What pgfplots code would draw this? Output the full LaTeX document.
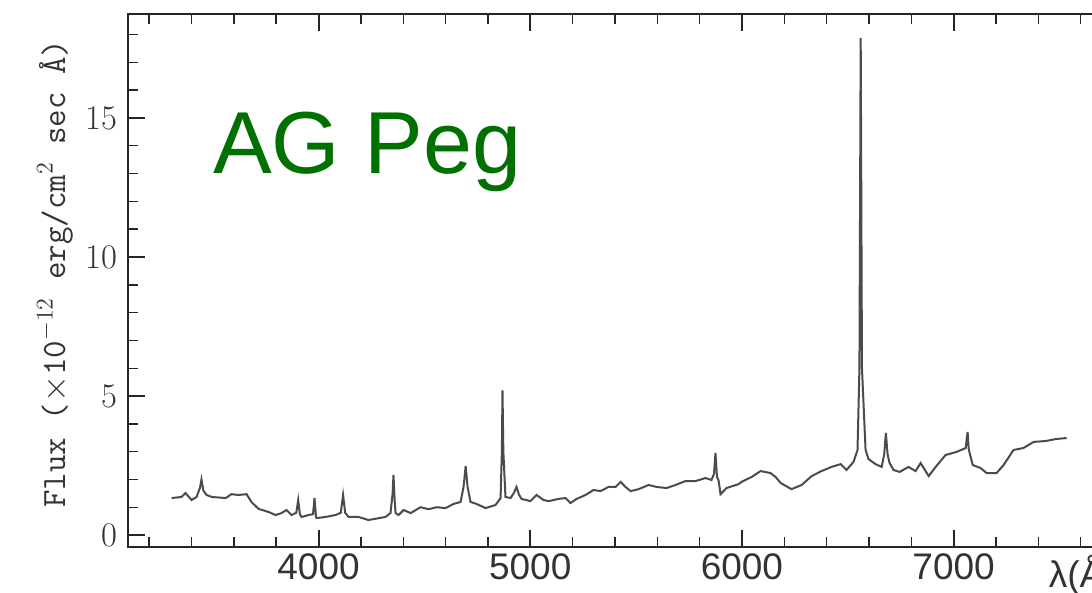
\documentclass[border=0pt]{standalone}
\usepackage{pgfplots}
\pgfplotsset{compat=1.18}
\usepackage{fontspec}
\newfontfamily\lsans{Liberation Sans}
\definecolor{agreen}{RGB}{0,112,0}
\definecolor{specgray}{RGB}{75,75,75}
\begin{document}
\begin{tikzpicture}
\useasboundingbox (-64pt,-23pt) rectangle (482pt,273.5pt);
\begin{axis}[
  at={(0pt,0pt)}, anchor=south west,
  scale only axis, width=497.5pt, height=266.5pt,
  xmin=3100, xmax=7800, ymin=-0.43, ymax=18.74,
  clip=false,
  axis line style={line width=1.3pt, black!85},
  xtick={4000,5000,6000,7000}, xticklabels={4000,5000,6000,7000},
  minor xtick={3200,3400,3600,3800,4200,4400,4600,4800,5200,5400,5600,5800,6200,6400,6600,6800,7200,7400,7600},
  ytick={0,5,10,15}, minor ytick={1,2,3,4,6,7,8,9,11,12,13,14,16,17,18},
  major tick length=8.5pt, minor tick length=5pt,
  tick style={black!85},
  major tick style={line width=1pt}, minor tick style={line width=0.7pt},
  xticklabel style={font=\lsans\fontsize{18.5}{20}\selectfont, text=black!80},
  yticklabel style={font=\fontsize{17}{20}\selectfont, text=black!80, xshift=-2pt},
]
\addplot[specgray, line width=1pt, mark=none] coordinates {
(3306,1.33) (3353,1.37) (3372,1.51) (3400,1.26) (3424,1.37) (3440,1.7) (3447,2.0) (3456,1.6)
(3471,1.44) (3495,1.37) (3561,1.33) (3589,1.47) (3622,1.44) (3660,1.47) (3683,1.19) (3717,0.94)
(3764,0.83) (3797,0.72) (3825,0.79) (3849,0.90) (3872,0.72) (3895,0.8) (3904,1.26) (3912,0.75)
(3920,0.65) (3953,0.72) (3974,0.75) (3981,1.33) (3988,0.65) (3991,0.61) (4033,0.65) (4080,0.72)
(4105,0.8) (4116,1.44) (4126,0.8) (4142,0.65) (4189,0.65) (4236,0.54) (4316,0.65) (4340,0.79)
(4350,1.5) (4354,2.16) (4360,1.2) (4364,0.79) (4378,0.72) (4402,0.90) (4435,0.79) (4482,1.00)
(4520,0.93) (4558,1.00) (4600,0.97) (4638,1.12) (4671,1.19) (4685,1.73) (4695,2.48) (4704,1.73)
(4718,1.19) (4746,1.12) (4789,0.97) (4836,1.08) (4860,1.33) (4866,3.0) (4869,5.2) (4873,3.0)
(4883,1.37) (4907,1.33) (4922,1.5) (4935,1.73) (4947,1.45) (4959,1.30) (5001,1.22) (5030,1.44)
(5063,1.26) (5087,1.22) (5134,1.30) (5167,1.33) (5190,1.15) (5219,1.30) (5261,1.44) (5299,1.62)
(5332,1.58) (5370,1.73) (5403,1.73) (5427,1.91) (5450,1.73) (5474,1.58) (5512,1.65) (5559,1.80)
(5597,1.73) (5644,1.69) (5686,1.80) (5733,1.94) (5781,1.94) (5828,2.05) (5856,1.98) (5868,2.2)
(5875,2.95) (5882,2.1) (5890,1.95) (5899,1.47) (5927,1.69) (5984,1.83) (5998,1.91) (6046,2.09)
(6088,2.30) (6135,2.23) (6159,2.09) (6183,1.87) (6234,1.65) (6282,1.80) (6329,2.12) (6376,2.30)
(6423,2.45) (6466,2.55) (6494,2.34) (6527,2.63) (6546,3.06) (6555,6.0) (6561,17.88) (6567,6.0)
(6584,3.06) (6598,2.73) (6631,2.55) (6660,2.45) (6672,2.9) (6680,3.67) (6688,2.9) (6697,2.6)
(6716,2.34) (6745,2.27) (6787,2.45) (6820,2.3) (6844,2.59) (6882,2.12) (6915,2.45) (6962,2.88)
(7014,2.99) (7057,3.13) (7066,3.71) (7071,3.1) (7090,2.52) (7127,2.41) (7156,2.23) (7203,2.23)
(7236,2.52) (7283,3.06) (7330,3.13) (7378,3.35) (7434,3.38) (7481,3.45) (7534,3.49)
};
\node[anchor=base west, inner sep=0pt, text=agreen, font=\lsans\fontsize{44}{50}\selectfont] at (axis cs:3501,13.02) {AG Peg};
\node[rotate=90, inner sep=0pt, text=black!80, font=\ttfamily\fontsize{17}{20}\selectfont] at (rel axis cs:-0.0734,0.513) {Flux ($\times$10$^{-12}$ erg/cm$^2$ sec Å)};
\node[anchor=base west, inner sep=0pt, yshift=-20.5pt, text=black!80, font=\lsans\fontsize{18.5}{20}\selectfont] at (axis cs:7448,-0.43) {λ(Å)};
\end{axis}
\end{tikzpicture}
\end{document}
